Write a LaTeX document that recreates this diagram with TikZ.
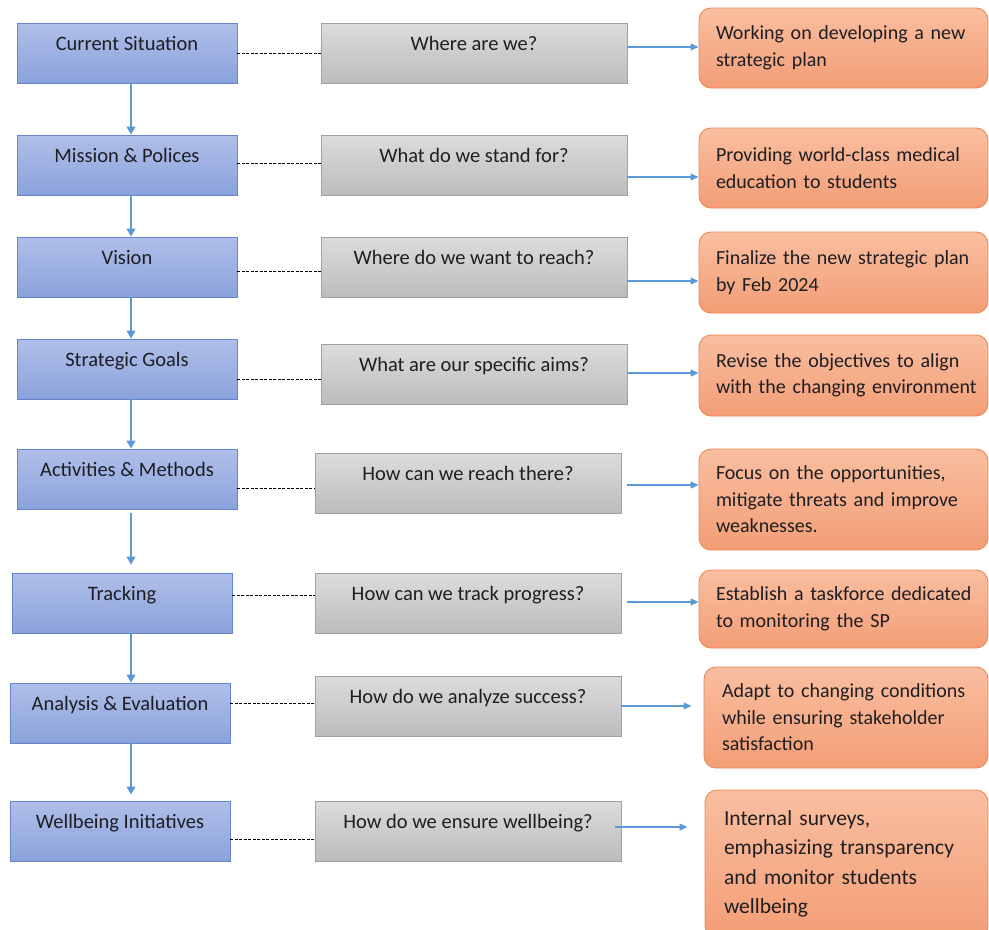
\documentclass[tikz,border=0pt]{standalone}
\usepackage{fontspec}
\setmainfont{Carlito}
\usetikzlibrary{arrows.meta,calc}
\definecolor{bluetop}{RGB}{176,191,233}
\definecolor{bluebot}{RGB}{138,162,219}
\definecolor{blueline}{RGB}{100,132,205}
\definecolor{greytop}{RGB}{220,220,220}
\definecolor{greybot}{RGB}{188,188,188}
\definecolor{greyline}{RGB}{160,160,160}
\definecolor{orgtop}{RGB}{249,190,160}
\definecolor{orgbot}{RGB}{243,158,118}
\definecolor{orgline}{RGB}{237,135,85}
\definecolor{arrowblue}{RGB}{91,155,213}
\definecolor{txt}{RGB}{30,30,35}
\newcommand{\oline}[1]{\mbox{#1}}
\begin{document}
\begin{tikzpicture}[x=1pt,y=-1pt,
  boxtext/.style={font=\fontsize{20.5}{26.5}\selectfont, text=txt},
  bluebox/.style={boxtext, draw=blueline, line width=0.9pt, top color=bluetop, bottom color=bluebot,
    minimum width=220pt, minimum height=60pt, inner sep=0pt, text height=15pt, text depth=21pt},
  greybox/.style={boxtext, draw=greyline, line width=0.9pt, top color=greytop, bottom color=greybot,
    minimum width=306pt, minimum height=60pt, inner sep=0pt, text height=15pt, text depth=21pt},
  orgbox/.style={font=\fontsize{20}{26.5}\selectfont, text=txt, draw=orgline, line width=0.9pt,
    top color=orgtop, bottom color=orgbot,
    rounded corners=12pt, align=left, inner xsep=17pt, inner ysep=0pt},
  varr/.style={draw=arrowblue, line width=1.1pt, -{Triangle[length=8pt,width=9pt]}},
  harr/.style={draw=arrowblue, line width=1.1pt, -{Triangle[length=8pt,width=7pt]}},
  dashlink/.style={draw=black, line width=0.9pt, dash pattern=on 3pt off 1.5pt}
]
\clip (0,0) rectangle (989,930);
\fill[white] (0,0) rectangle (989,930);

% left column
\node[bluebox] (b1) at (127,53)  {Current Situation};
\node[bluebox] (b2) at (127,165) {Mission \& Polices};
\node[bluebox] (b3) at (127,267) {Vision};
\node[bluebox] (b4) at (127,369) {Strategic Goals};
\node[bluebox] (b5) at (127,479) {Activities \& Methods};
\node[bluebox] (b6) at (122,603) {Tracking};
\node[bluebox] (b7) at (120,713) {Analysis \& Evaluation};
\node[bluebox] (b8) at (120,831) {Wellbeing Initiatives};

% middle column
\node[greybox] (g1) at (474,53)  {Where are we?};
\node[greybox] (g2) at (474,165) {What do we stand for?};
\node[greybox] (g3) at (474,267) {Where do we want to reach?};
\node[greybox] (g4) at (474,374) {What are our specific aims?};
\node[greybox] (g5) at (468,483) {How can we reach there?};
\node[greybox] (g6) at (468,603) {How can we track progress?};
\node[greybox] (g7) at (468,706) {How do we analyze success?};
\node[greybox] (g8) at (468,831) {How do we ensure wellbeing?};

% right column
\node[orgbox, minimum height=80pt, text width=255pt] (o1) at (843.5,48)
  {\oline{Working on developing a new}\\\oline{strategic plan}};
\node[orgbox, minimum height=80pt, text width=255pt] (o2) at (843.5,168)
  {\oline{Providing world-class medical}\\\oline{education to students}};
\node[orgbox, minimum height=81pt, text width=255pt] (o3) at (843.5,272.5)
  {\oline{Finalize the new strategic plan}\\\oline{by Feb 2024}};
\node[orgbox, minimum height=81pt, text width=255pt] (o4) at (843.5,375.5)
  {\makebox[262pt][s]{Revise the objectives to align}\\\oline{with the changing environment}};
\node[orgbox, minimum height=101pt, text width=255pt] (o5) at (843.5,499.5)
  {\oline{Focus on the opportunities,}\\\oline{mitigate threats and improve}\\\oline{weaknesses.}};
\node[orgbox, minimum height=78pt, text width=255pt] (o6) at (843.5,609)
  {\oline{Establish a taskforce dedicated}\\\oline{to monitoring the SP}};
\node[orgbox, minimum height=101pt, text width=248pt, inner xsep=18pt] (o7) at (846,717.5)
  {\oline{Adapt to changing conditions}\\\oline{while ensuring stakeholder}\\\oline{satisfaction}};
\node[orgbox, minimum height=148pt, text width=245pt, inner xsep=19pt,
      font=\fontsize{21.5}{29.5}\selectfont] (o8) at (846.5,864)
  {\oline{Internal surveys,}\\\oline{emphasizing transparency}\\\oline{and monitor students}\\\oline{wellbeing}};

% vertical arrows
\coordinate (ax) at (131,0);
\draw[varr] (b1.south -| ax) -- (b2.north -| ax);
\draw[varr] (b2.south -| ax) -- (b3.north -| ax);
\draw[varr] (b3.south -| ax) -- (b4.north -| ax);
\draw[varr] (b4.south -| ax) -- (b5.north -| ax);
\draw[varr, shorten <=4pt, shorten >=8pt] (b5.south -| ax) -- (b6.north -| ax);
\draw[varr] (b6.south -| ax) -- (b7.north -| ax);
\draw[varr, shorten >=6pt] (b7.south -| ax) -- (b8.north -| ax);

% dashed links
\draw[dashlink] (b1.east |- 0,53)  -- (g1.west |- 0,53);
\draw[dashlink] (b2.east |- 0,163) -- (g2.west |- 0,163);
\draw[dashlink] (b3.east |- 0,271) -- (g3.west |- 0,271);
\draw[dashlink] (b4.east |- 0,379) -- (g4.west |- 0,379);
\draw[dashlink] (b5.east |- 0,488) -- (g5.west |- 0,488);
\draw[dashlink] (b6.east |- 0,595) -- (g6.west |- 0,595);
\draw[dashlink] (b7.east |- 0,703) -- (g7.west |- 0,703);
\draw[dashlink] (b8.east |- 0,839) -- (g8.west |- 0,839);

% horizontal arrows
\draw[harr] (g1.east |- 0,47)  -- (o1.west |- 0,47);
\draw[harr] (g2.east |- 0,177) -- (o2.west |- 0,177);
\draw[harr] (g3.east |- 0,281) -- (o3.west |- 0,281);
\draw[harr] (g4.east |- 0,373) -- (o4.west |- 0,373);
\draw[harr, shorten <=6pt] (g5.east |- 0,485) -- (o5.west |- 0,485);
\draw[harr, shorten <=6pt] (g6.east |- 0,602) -- (o6.west |- 0,602);
\draw[harr, shorten >=12pt] (g7.east |- 0,706) -- (o7.west |- 0,706);
\draw[harr, shorten <=-6pt, shorten >=17pt] (g8.east |- 0,827) -- (o8.west |- 0,827);
\end{tikzpicture}
\end{document}
